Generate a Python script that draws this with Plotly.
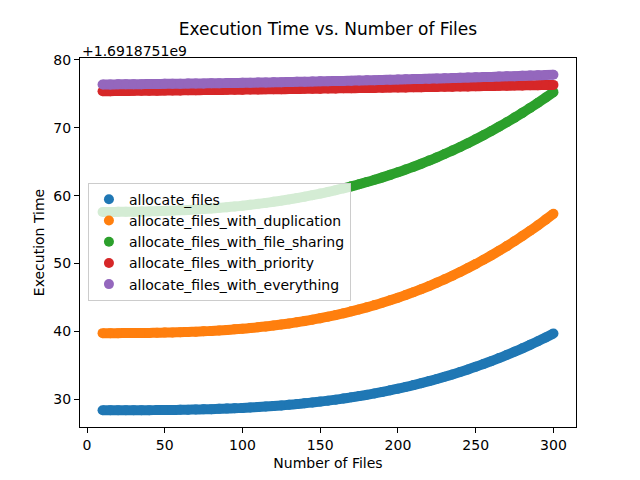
import plotly.graph_objects as go

# Number of files (x values)
num_files = [10, 15, 20, 25, 30, 35, 40, 45, 50, 55, 60, 65, 70, 75, 80, 85, 90, 95, 100,
             105, 110, 115, 120, 125, 130, 135, 140, 145, 150, 155, 160, 165, 170, 175, 180,
             185, 190, 195, 200, 205, 210, 215, 220, 225, 230, 235, 240, 245, 250, 255, 260,
             265, 270, 275, 280, 285, 290, 295, 300]

# Execution time values, as offsets from 1.6918751e9
allocate_files = [28.40, 28.40, 28.40, 28.40, 28.40, 28.41, 28.41, 28.42, 28.43, 28.44, 28.46,
                  28.48, 28.50, 28.53, 28.56, 28.60, 28.64, 28.68, 28.74, 28.80, 28.86, 28.94,
                  29.02, 29.10, 29.20, 29.30, 29.42, 29.54, 29.67, 29.81, 29.96, 30.12, 30.30,
                  30.48, 30.67, 30.88, 31.10, 31.33, 31.58, 31.83, 32.10, 32.39, 32.69, 33.00,
                  33.33, 33.67, 34.03, 34.41, 34.80, 35.21, 35.63, 36.08, 36.54, 37.02, 37.51,
                  38.03, 38.56, 39.12, 39.69]

allocate_files_with_duplication = [39.75, 39.75, 39.75, 39.76, 39.76, 39.77, 39.79, 39.80, 39.83,
                                   39.85, 39.89, 39.92, 39.97, 40.02, 40.08, 40.15, 40.22, 40.31,
                                   40.40, 40.50, 40.62, 40.74, 40.87, 41.02, 41.18, 41.35, 41.54,
                                   41.74, 41.95, 42.18, 42.42, 42.68, 42.96, 43.25, 43.55, 43.88,
                                   44.22, 44.59, 44.97, 45.37, 45.79, 46.23, 46.69, 47.18, 47.68,
                                   48.21, 48.76, 49.34, 49.93, 50.56, 51.20, 51.88, 52.57, 53.30,
                                   54.05, 54.83, 55.63, 56.47, 57.33]

allocate_files_with_file_sharing = [57.60, 57.60, 57.61, 57.62, 57.63, 57.65, 57.68, 57.71, 57.74,
                                    57.79, 57.84, 57.89, 57.96, 58.03, 58.11, 58.20, 58.30, 58.40,
                                    58.52, 58.65, 58.79, 58.93, 59.09, 59.26, 59.45, 59.64, 59.85,
                                    60.07, 60.30, 60.55, 60.81, 61.08, 61.37, 61.68, 62.00, 62.33,
                                    62.69, 63.06, 63.44, 63.84, 64.26, 64.70, 65.16, 65.63, 66.13,
                                    66.64, 67.17, 67.73, 68.30, 68.90, 69.51, 70.15, 70.81, 71.49,
                                    72.19, 72.92, 73.67, 74.45, 75.24]

allocate_files_with_priority = [75.38, 75.39, 75.40, 75.41, 75.43, 75.44, 75.45, 75.46, 75.47,
                                75.49, 75.50, 75.51, 75.52, 75.54, 75.55, 75.56, 75.58, 75.59,
                                75.61, 75.62, 75.64, 75.65, 75.66, 75.68, 75.69, 75.71, 75.73,
                                75.74, 75.76, 75.77, 75.79, 75.81, 75.82, 75.84, 75.86, 75.87,
                                75.89, 75.91, 75.92, 75.94, 75.96, 75.98, 76.00, 76.01, 76.03,
                                76.05, 76.07, 76.09, 76.11, 76.13, 76.15, 76.17, 76.19, 76.21,
                                76.23, 76.25, 76.27, 76.29, 76.31]

allocate_files_with_everything = [76.37, 76.38, 76.39, 76.40, 76.41, 76.42, 76.43, 76.44, 76.46,
                                  76.47, 76.48, 76.50, 76.51, 76.53, 76.54, 76.56, 76.58, 76.60,
                                  76.61, 76.63, 76.65, 76.67, 76.69, 76.71, 76.74, 76.76, 76.78,
                                  76.80, 76.83, 76.85, 76.88, 76.90, 76.93, 76.95, 76.98, 77.01,
                                  77.04, 77.07, 77.10, 77.13, 77.16, 77.19, 77.22, 77.25, 77.28,
                                  77.32, 77.35, 77.38, 77.42, 77.46, 77.49, 77.53, 77.57, 77.60,
                                  77.64, 77.68, 77.72, 77.76, 77.80]

series_names = ["allocate_files", "allocate_files_with_duplication",
                "allocate_files_with_file_sharing", "allocate_files_with_priority",
                "allocate_files_with_everything"]
series_values = [allocate_files, allocate_files_with_duplication,
                 allocate_files_with_file_sharing, allocate_files_with_priority,
                 allocate_files_with_everything]
colors = ["#1f77b4", "#ff7f0e", "#2ca02c", "#d62728", "#9467bd"]

x_ticks = [0, 50, 100, 150, 200, 250, 300]
y_ticks = [30, 40, 50, 60, 70, 80]
offset_label = "+1.6918751e9"

FONT = "DejaVu Sans"
MARKER_D = 10

fig = go.Figure()
for name, vals, col in zip(series_names, series_values, colors):
    # dense scatter appears as a continuous band: draw the band joining the markers
    fig.add_trace(go.Scatter(
        x=num_files, y=vals, mode="lines", name=name,
        showlegend=False, hoverinfo="skip",
        line=dict(color=col, width=MARKER_D, simplify=False, shape="spline", smoothing=0.6),
    ))
    fig.add_trace(go.Scatter(
        x=num_files, y=vals, mode="markers", name=name,
        marker=dict(color=col, size=MARKER_D, line=dict(width=0)),
    ))

axis_common = dict(
    showline=True, mirror=True, linecolor="black", linewidth=1,
    ticks="outside", ticklen=5, tickwidth=1, tickcolor="black",
    showgrid=False, zeroline=False, automargin=False,
    tickfont=dict(family=FONT, size=14, color="black"),
)

fig.update_layout(
    width=640, height=480,
    margin=dict(l=80, r=64, t=58, b=53, autoexpand=False),
    paper_bgcolor="white", plot_bgcolor="white",
    font=dict(family=FONT, color="black"),
    title=dict(text="Execution Time vs. Number of Files", x=0.5, xref="paper",
               y=1 - 29 / 480, yanchor="middle",
               font=dict(family=FONT, size=17, color="black")),
    xaxis=dict(range=[-4.5, 314.5], tickvals=x_ticks,
               title=dict(text="Number of Files", font=dict(family=FONT, size=14), standoff=6),
               **axis_common),
    yaxis=dict(range=[25.93, 80.27], tickvals=y_ticks,
               title=dict(text="Execution Time", font=dict(family=FONT, size=14), standoff=5),
               **axis_common),
    legend=dict(x=0.016, y=0.662, xanchor="left", yanchor="top",
                bgcolor="rgba(255,255,255,0.8)", bordercolor="#cccccc", borderwidth=1,
                font=dict(family=FONT, size=14, color="black")),
    showlegend=True,
)

fig.add_annotation(text=offset_label, xref="paper", yref="paper", x=0, y=1,
                   xanchor="left", yanchor="bottom", showarrow=False, yshift=-3,
                   font=dict(family=FONT, size=14, color="black"))

body = fig.to_html(full_html=False, include_plotlyjs=True,
                   config={"displayModeBar": False, "staticPlot": True})
html = ("<!DOCTYPE html><html><head><meta charset='utf-8'>"
        "<style>html,body{margin:0;padding:0;background:white;}</style></head><body>"
        + body + "</body></html>")
with open("out.html", "w", encoding="utf-8") as f:
    f.write(html)
